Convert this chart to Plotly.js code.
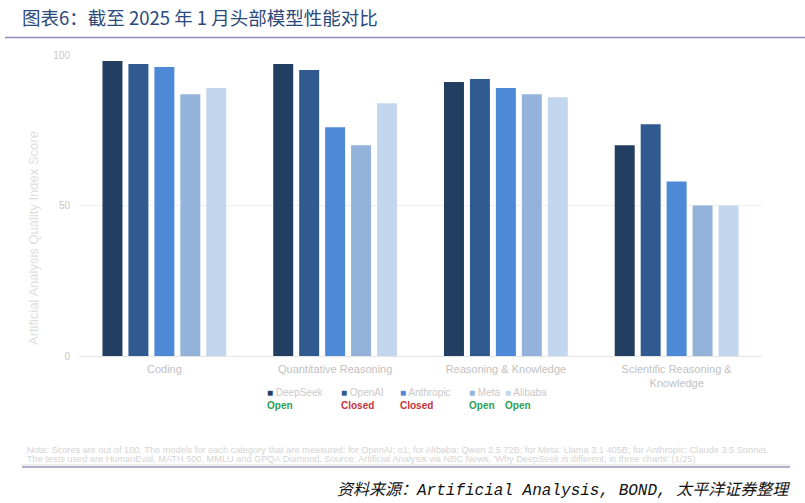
<!DOCTYPE html>
<html>
<head>
<meta charset="utf-8">
<script src="https://cdn.plot.ly/plotly-3.0.1.min.js"></script>
<style>html,body{margin:0;padding:0;background:#fff;}#chart{width:805px;height:503px;}</style>
</head>
<body>
<div id="chart"></div>
<script>
// ---- data ----
const categories = ['Coding', 'Quantitative Reasoning', 'Reasoning & Knowledge', 'Scientific Reasoning &<br>Knowledge'];
const seriesNames = ['DeepSeek', 'OpenAI', 'Anthropic', 'Meta', 'Alibaba'];
const deepseekScores = [98, 97, 91, 70];
const openaiScores = [97, 95, 92, 77];
const anthropicScores = [96, 76, 89, 58];
const metaScores = [87, 70, 87, 50];
const alibabaScores = [89, 84, 86, 50];
const openness = ['Open', 'Closed', 'Closed', 'Open', 'Open'];
const yTickVals = [0, 50, 100];
const yTickText = ['0', '50', '100'];
const yTitle = 'Artificial Analysis Quality Index Score';

// ---- styles ----
const seriesValues = [deepseekScores, openaiScores, anthropicScores, metaScores, alibabaScores];
const seriesColors = ['#223e60', '#305a90', '#4d89d6', '#93b3da', '#c2d7ee'];
const openColor = {Open: '#2e9d52', Closed: '#c8323a'};

const W = 805, H = 503;
const M = {l: 79, r: 43, t: 55, b: 147};
const plotW = W - M.l - M.r, plotH = H - M.t - M.b;
const px = x => (x - M.l) / plotW;
const py = y => (H - M.b - y) / plotH;

const traces = seriesNames.map((n, i) => ({
  type: 'bar', name: n, x: categories, y: seriesValues[i],
  marker: {color: seriesColors[i], line: {width: 0}},
  showlegend: false, hoverinfo: 'x+y+name'
}));

const legendX = [265, 339, 398, 467, 503];
const annotations = [];
seriesNames.forEach((n, i) => {
  annotations.push({
    xref: 'paper', yref: 'paper', x: px(legendX[i]), y: py(385), xanchor: 'left', yanchor: 'top', align: 'left',
    showarrow: false,
    text: '<span style="color:' + seriesColors[i] + '">■</span> ' + n +
          '<br><b><span style="color:' + openColor[openness[i]] + '">' + openness[i] + '</span></b>',
    font: {family: 'Liberation Sans, Arial, sans-serif', size: 10, color: '#c9c9c9'}
  });
});
annotations.push({
  xref: 'paper', yref: 'paper', x: px(33), y: py(238), xanchor: 'center', yanchor: 'middle', showarrow: false,
  textangle: -90, text: yTitle,
  font: {family: 'Liberation Sans, Arial, sans-serif', size: 13, color: '#dedede'}
});
annotations.push({
  xref: 'paper', yref: 'paper', x: px(20), y: py(17), xanchor: 'left', yanchor: 'middle', showarrow: false,
  text: '图表6：截至 2025 年 1 月头部模型性能对比',
  font: {family: 'Noto Sans CJK SC, sans-serif', size: 18.5, color: '#2b4a7c'}
});
annotations.push({
  xref: 'paper', yref: 'paper', x: px(25), y: py(449.5), xanchor: 'left', yanchor: 'middle', showarrow: false,
  text: 'Note: Scores are out of 100. The models for each category that are measured: for OpenAI: o1; for Alibaba: Qwen 2.5 72B; for Meta: Llama 3.1 405B; for Anthropic: Claude 3.5 Sonnet.',
  font: {family: 'Liberation Sans, Arial, sans-serif', size: 9.2, color: '#d4d4d4'}
});
annotations.push({
  xref: 'paper', yref: 'paper', x: px(25), y: py(459), xanchor: 'left', yanchor: 'middle', showarrow: false,
  text: "The tests used are HumanEval, MATH 500, MMLU and GPQA Diamond. Source: Artificial Analysis via NBC News, 'Why DeepSeek is different, in three charts' (1/25)",
  font: {family: 'Liberation Sans, Arial, sans-serif', size: 9.2, color: '#d4d4d4'}
});
annotations.push({
  xref: 'paper', yref: 'paper', x: px(792), y: py(490), xanchor: 'right', yanchor: 'middle', showarrow: false,
  text: '<i>资料来源：Artificial Analysis, BOND, 太平洋证券整理</i>',
  font: {family: 'Liberation Mono, Noto Sans CJK SC, monospace', size: 16, color: '#111111'}
});

const shapes = [
  {type: 'line', xref: 'paper', yref: 'paper', x0: px(5), x1: px(805), y0: py(37.5), y1: py(37.5), line: {color: '#8e8db2', width: 1.5}},
  {type: 'line', xref: 'paper', yref: 'paper', x0: px(22), x1: px(790), y0: py(465), y1: py(465), line: {color: '#dcdcdc', width: 1}},
  {type: 'line', xref: 'paper', yref: 'paper', x0: px(22), x1: px(790), y0: py(467), y1: py(467), line: {color: '#9a99b8', width: 1.5}}
];

const layout = {
  width: W, height: H,
  margin: M,
  paper_bgcolor: '#ffffff', plot_bgcolor: '#ffffff',
  barmode: 'group', bargap: 0.24, bargroupgap: 0.23,
  font: {family: 'Liberation Sans, Arial, sans-serif', color: '#c4c4c4'},
  xaxis: {
    type: 'category', automargin: false, showgrid: false, zeroline: false, showline: false,
    tickfont: {size: 11, color: '#c2c2c2'}, ticks: '', ticklabelstandoff: 5
  },
  yaxis: {
    range: [0, 100], automargin: false, tickvals: yTickVals, ticktext: yTickText,
    showgrid: true, gridcolor: '#efefef', gridwidth: 1, zeroline: true, zerolinecolor: '#e6e6e6', zerolinewidth: 1,
    showline: false, ticks: '', ticklabelstandoff: 8,
    tickfont: {size: 10, color: '#c8c8c8'}
  },
  annotations: annotations,
  shapes: shapes
};

Plotly.newPlot('chart', traces, layout, {displayModeBar: false, staticPlot: true});
</script>
</body>
</html>
